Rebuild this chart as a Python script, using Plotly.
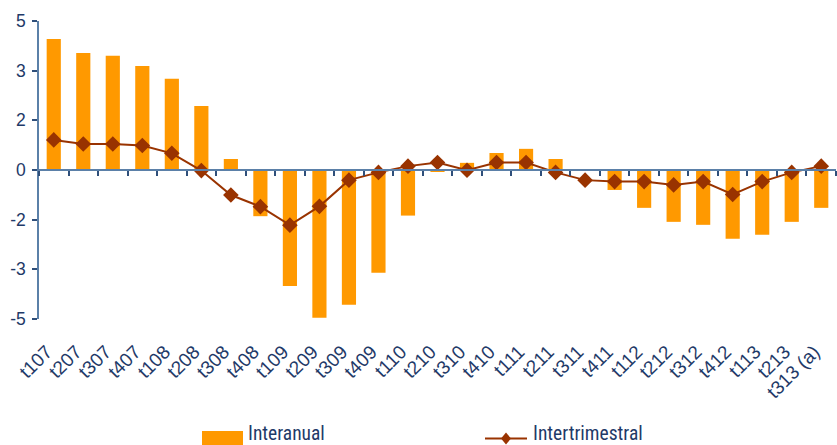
import plotly.graph_objects as go

# ---------------- data ----------------
categories = ["t107", "t207", "t307", "t407", "t108", "t208", "t308", "t408",
              "t109", "t209", "t309", "t409", "t110", "t210", "t310", "t410",
              "t111", "t211", "t311", "t411", "t112", "t212", "t312", "t412",
              "t113", "t213", "t313 (a)"]

interanual = [4.40, 3.93, 3.83, 3.49, 3.06, 2.15, 0.37, -1.55,
              -3.89, -4.96, -4.52, -3.45, -1.53, -0.05, 0.24, 0.57,
              0.71, 0.37, -0.02, -0.67, -1.27, -1.74, -1.84, -2.31,
              -2.17, -1.74, -1.27]

intertrimestral = [1.01, 0.87, 0.87, 0.82, 0.56, -0.02, -0.84, -1.23,
                   -1.85, -1.22, -0.34, -0.08, 0.13, 0.25, -0.01, 0.25,
                   0.25, -0.08, -0.34, -0.39, -0.39, -0.50, -0.39, -0.82,
                   -0.39, -0.08, 0.13]

y_tickvals = [5, 10 / 3, 5 / 3, 0, -5 / 3, -10 / 3, -5]
y_ticktext = ["5", "3", "2", "0", "-2", "-3", "-5"]

series_names = ["Interanual", "Intertrimestral"]

# ---------------- style ----------------
W, H = 837, 445
ML, MR, MT, MB = 39, 1, 21, 126
BAR_COLOR = "#FF9900"
LINE_COLOR = "#993300"
TEXT_COLOR = "#1F3A68"
AXIS_COLOR = "#5B80A8"
TICK_COLOR = "#2F4F7A"
FONT = "Arial, Liberation Sans, sans-serif"
NARROW = "Liberation Sans Narrow, Arial Narrow, Roboto Condensed, DejaVu Sans Condensed, sans-serif"


def px_x(px):
    return (px - ML) / (W - ML - MR)


def px_y(py):
    return (H - MB - py) / (H - MT - MB)


fig = go.Figure()

fig.add_trace(go.Bar(
    x=categories, y=interanual, name=series_names[0],
    marker=dict(color=BAR_COLOR, line=dict(width=0)),
    xaxis="x", yaxis="y", showlegend=False,
))

fig.add_trace(go.Scatter(
    x=categories, y=intertrimestral, name=series_names[1],
    mode="lines+markers",
    line=dict(color=LINE_COLOR, width=2),
    marker=dict(symbol="diamond", size=12, color=LINE_COLOR),
    xaxis="x2", yaxis="y", showlegend=False, cliponaxis=False,
))

# manual legend
shapes = [
    dict(type="rect", xref="paper", yref="paper",
         x0=px_x(202), x1=px_x(243), y0=px_y(446), y1=px_y(431),
         fillcolor=BAR_COLOR, line=dict(width=0)),
    dict(type="line", xref="paper", yref="paper",
         x0=px_x(485), x1=px_x(527), y0=px_y(438.5), y1=px_y(438.5),
         line=dict(color=LINE_COLOR, width=2)),
]
cx, cy, hw, hh = 506, 438.5, 5, 6
diamond = "M {} {} L {} {} L {} {} L {} {} Z".format(
    px_x(cx - hw), px_y(cy), px_x(cx), px_y(cy - hh),
    px_x(cx + hw), px_y(cy), px_x(cx), px_y(cy + hh))
shapes.append(dict(type="path", xref="paper", yref="paper", path=diamond,
                   fillcolor=LINE_COLOR, line=dict(width=0)))

annotations = [
    dict(text=series_names[0], xref="paper", yref="paper",
         x=px_x(246), y=px_y(433.5), xanchor="left", yanchor="middle",
         showarrow=False, font=dict(family=NARROW, size=19.5, color=TEXT_COLOR)),
    dict(text=series_names[1], xref="paper", yref="paper",
         x=px_x(531), y=px_y(433.5), xanchor="left", yanchor="middle",
         showarrow=False, font=dict(family=NARROW, size=19.5, color=TEXT_COLOR)),
]

fig.update_layout(
    width=W, height=H,
    margin=dict(l=ML, r=MR, t=MT, b=MB, autoexpand=False),
    paper_bgcolor="white", plot_bgcolor="white",
    font=dict(family=FONT, color=TEXT_COLOR, size=16),
    bargap=0.52,
    shapes=shapes, annotations=annotations,
    xaxis=dict(
        type="category", categoryorder="array", categoryarray=categories,
        range=[-0.5, len(categories) - 0.5],
        showline=False, showgrid=False, zeroline=False, ticks="",
        tickangle=-45, tickfont=dict(family=FONT, size=19, color=TEXT_COLOR),
        ticklabelstandoff=17, ticklabelshift=-7,
    ),
    xaxis2=dict(
        type="category", categoryorder="array", categoryarray=categories,
        overlaying="x", matches="x", anchor="free", position=0.5,
        showline=True, linecolor=AXIS_COLOR, linewidth=1.5,
        ticks="outside", tickson="boundaries", ticklen=5, tickwidth=1.5,
        tickcolor=TICK_COLOR, showticklabels=False, showgrid=False,
        zeroline=False,
    ),
    yaxis=dict(
        range=[-5, 5], tickvals=y_tickvals, ticktext=y_ticktext,
        showline=True, linecolor=AXIS_COLOR, linewidth=1.5,
        ticks="outside", ticklen=5, tickwidth=1.5, tickcolor=TICK_COLOR,
        showgrid=False, zeroline=False, ticklabelstandoff=3,
        tickfont=dict(family=FONT, size=17.5, color=TEXT_COLOR),
    ),
)

fig.write_html("out.html", config={"displayModeBar": False},
               post_script="document.body.style.margin='0';document.body.style.overflow='hidden';")
